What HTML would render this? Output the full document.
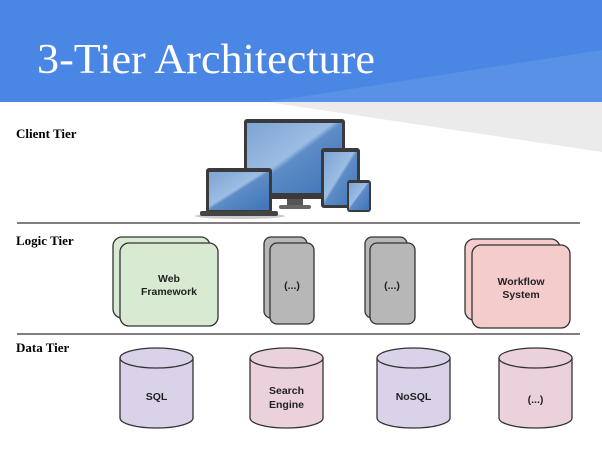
<!DOCTYPE html>
<html><head><style>
body{margin:0;width:602px;height:452px;overflow:hidden;background:#fff;font-family:"Liberation Sans",sans-serif}
</style></head><body>
<svg width="602" height="452" xmlns="http://www.w3.org/2000/svg">
<defs>
<linearGradient id="sc" x1="0" y1="0" x2="1" y2="1"><stop offset="0" stop-color="#7da4d4"/><stop offset="0.45" stop-color="#9cbde3"/><stop offset="0.5" stop-color="#5d8cc6"/><stop offset="1" stop-color="#3f74b8"/></linearGradient>
</defs>
<rect x="0" y="0" width="602" height="102" fill="#4a86e3"/>
<polygon points="267,102 602,50 602,102" fill="#5891e6"/>
<polygon points="267,102 602,102 602,152" fill="#ebebeb"/>
<text x="37" y="73" font-family="Liberation Serif,serif" font-size="42" fill="#fff" textLength="338" lengthAdjust="spacingAndGlyphs">3-Tier Architecture</text>

<g font-family="Liberation Serif,serif" font-weight="bold" font-size="13" fill="#000">
<text x="16" y="138">Client Tier</text>
<text x="16" y="245">Logic Tier</text>
<text x="16" y="352">Data Tier</text>
</g>
<line x1="17" y1="223" x2="580" y2="223" stroke="#5a5258" stroke-width="1.5"/>
<line x1="17" y1="334" x2="580" y2="334" stroke="#5a5258" stroke-width="1.5"/>

<!-- devices -->
<ellipse cx="240" cy="216" rx="45" ry="3" fill="#ccc"/>
<rect x="244" y="119" width="101" height="80" rx="3" fill="#3a3a3c"/>
<rect x="247" y="123" width="95" height="70" fill="url(#sc)"/>
<rect x="287" y="199" width="16" height="8" fill="#555"/>
<rect x="279" y="205" width="32" height="4" rx="2" fill="#666"/>
<rect x="206" y="168" width="66" height="45" rx="3" fill="#3a3a3c"/>
<rect x="209" y="172" width="60" height="38" fill="url(#sc)"/>
<rect x="200" y="211" width="78" height="5" rx="2" fill="#444"/>
<rect x="321" y="148" width="39" height="60" rx="3" fill="#3a3a3c"/>
<rect x="324" y="152" width="33" height="53" fill="url(#sc)"/>
<rect x="347" y="180" width="24" height="32" rx="3" fill="#3a3a3c"/>
<rect x="349" y="183" width="20" height="27" fill="url(#sc)"/>

<!-- logic -->
<g stroke="#333" stroke-width="1.3">
<rect x="113" y="237" width="97" height="81" rx="9" fill="#d9ead3"/>
<rect x="120" y="243" width="98" height="83" rx="9" fill="#d9ead3"/>
<rect x="264" y="237" width="43" height="81" rx="7" fill="#b7b7b7"/>
<rect x="270" y="243" width="44" height="81" rx="7" fill="#b7b7b7"/>
<rect x="365" y="237" width="42" height="81" rx="7" fill="#b7b7b7"/>
<rect x="370" y="243" width="45" height="81" rx="7" fill="#b7b7b7"/>
<rect x="465" y="239" width="95" height="81" rx="9" fill="#f4cccc"/>
<rect x="472" y="245" width="98" height="83" rx="9" fill="#f4cccc"/>
</g>
<g font-weight="bold" font-size="10.5" fill="#222" text-anchor="middle">
<text x="169" y="282">Web</text><text x="169" y="295">Framework</text>
<text x="292" y="289">(...)</text>
<text x="392" y="289">(...)</text>
<text x="521" y="285">Workflow</text><text x="521" y="298">System</text>
</g>

<!-- data -->
<g stroke="#333" stroke-width="1.3">
<path d="M120,358 v60 a36.5,10 0 0 0 73,0 v-60" fill="#d9d2e9"/><ellipse cx="156.5" cy="358" rx="36.5" ry="10" fill="#d9d2e9"/>
<path d="M250,358 v60 a36.5,10 0 0 0 73,0 v-60" fill="#ead1dc"/><ellipse cx="286.5" cy="358" rx="36.5" ry="10" fill="#ead1dc"/>
<path d="M377,358 v60 a36.5,10 0 0 0 73,0 v-60" fill="#d9d2e9"/><ellipse cx="413.5" cy="358" rx="36.5" ry="10" fill="#d9d2e9"/>
<path d="M499,358 v60 a36.5,10 0 0 0 73,0 v-60" fill="#ead1dc"/><ellipse cx="535.5" cy="358" rx="36.5" ry="10" fill="#ead1dc"/>
</g>
<g font-weight="bold" font-size="10.5" fill="#222" text-anchor="middle">
<text x="156.5" y="400">SQL</text>
<text x="286.5" y="394">Search</text><text x="286.5" y="408">Engine</text>
<text x="413.5" y="400">NoSQL</text>
<text x="535.5" y="403">(...)</text>
</g>
</svg>
</body></html>
